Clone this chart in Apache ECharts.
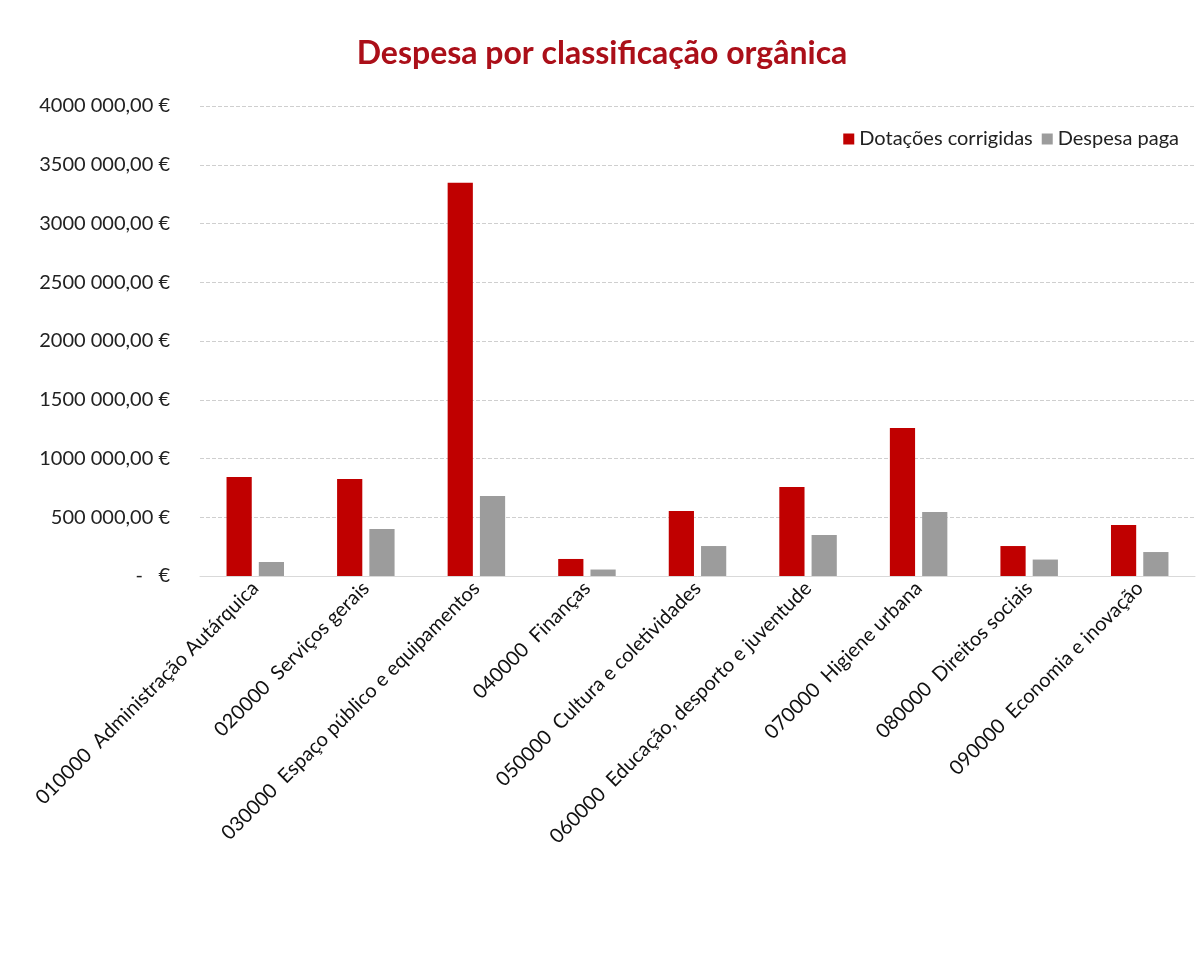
<!DOCTYPE html>
<html>
<head>
<meta charset="utf-8">
<script src="https://cdn.jsdelivr.net/npm/echarts@6/dist/echarts.min.js"></script>
<style>
  html, body { margin: 0; padding: 0; background: #fff; }
  #chart { width: 1204px; height: 953px; }
</style>
</head>
<body>
<div id="chart"></div>
<script>
const categories = [
  '010000  Administração Autárquica',
  '020000  Serviços gerais',
  '030000  Espaço público e equipamentos',
  '040000  Finanças',
  '050000  Cultura e coletividades',
  '060000  Educação, desporto e juventude',
  '070000  Higiene urbana',
  '080000  Direitos sociais',
  '090000  Economia e inovação'
];
const dotacoes = [843000, 826000, 3347000, 145000, 553000, 758000, 1260000, 255000, 434000];
const despesaPaga = [119000, 400000, 681000, 55000, 255000, 350000, 545000, 140000, 204000];
const seriesNames = ['Dotações corrigidas', 'Despesa paga'];

// formato tipo Excel: "4000 000,00 €", zero como " -   €"
function euro(v) {
  if (v === 0) return '-   €';
  const mil = Math.floor(v / 1000);
  const resto = String(v % 1000).padStart(3, '0');
  return mil + ' ' + resto + ',00 €';
}

const myChart = echarts.init(document.getElementById('chart'));
const option = {
  backgroundColor: '#fff',
  textStyle: { fontFamily: 'Lato' },
  title: {
    text: 'Despesa por classificação orgânica',
    left: 'center',
    top: 33,
    textStyle: { color: '#ab0f19', fontSize: 32, fontWeight: 'bold', fontFamily: 'Lato' }
  },
  legend: {
    data: seriesNames,
    right: 20,
    top: 124,
    itemWidth: 11,
    itemHeight: 11,
    itemGap: 9,
    icon: 'rect',
    textStyle: { color: '#222', fontSize: 20 }
  },
  grid: { left: 200, right: 9, top: 106, bottom: 377 },
  xAxis: {
    type: 'category',
    data: categories,
    axisTick: { show: false },
    axisLine: { lineStyle: { color: '#d9d9d9' } },
    axisLabel: { rotate: 45, color: '#111', fontSize: 20, margin: 9, interval: 0 }
  },
  yAxis: {
    type: 'value',
    min: 0,
    max: 4000000,
    interval: 500000,
    axisLine: { show: false },
    axisTick: { show: false },
    splitLine: { lineStyle: { color: '#cfcfcf', type: 'dashed' } },
    axisLabel: { color: '#222', fontSize: 20, margin: 30, formatter: euro }
  },
  series: [
    {
      name: seriesNames[0],
      type: 'bar',
      data: dotacoes,
      barGap: '28%',
      barCategoryGap: '48%',
      itemStyle: { color: '#c00000' }
    },
    {
      name: seriesNames[1],
      type: 'bar',
      data: despesaPaga,
      itemStyle: { color: '#9c9c9c' }
    }
  ],
  animation: false
};
myChart.setOption(option);
</script>
</body>
</html>
